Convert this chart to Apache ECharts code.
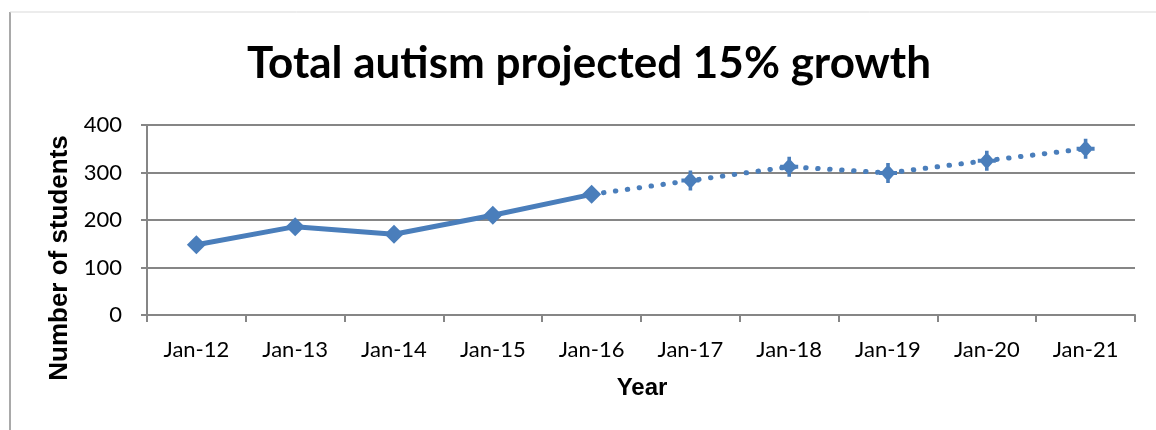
<!DOCTYPE html>
<html>
<head>
<meta charset="utf-8">
<script src="https://cdn.jsdelivr.net/npm/echarts@6/dist/echarts.min.js"></script>
<style>
  html, body { margin: 0; padding: 0; background: #ffffff; }
  #chart { width: 1156px; height: 430px; }
</style>
</head>
<body>
<div id="chart"></div>
<script>
// Year labels along the category axis
const years = ['Jan-12', 'Jan-13', 'Jan-14', 'Jan-15', 'Jan-16', 'Jan-17', 'Jan-18', 'Jan-19', 'Jan-20', 'Jan-21'];
// Recorded student counts, Jan-12 .. Jan-16
const actual = [148, 186, 170, 210, 254];
// Projected student counts, Jan-17 .. Jan-21
const projected = [283, 312, 299, 325, 350];

const blue = '#4a7ebb';
const axisGray = '#868686';

// Solid series: recorded years only
const actualData = years.map((_, i) => (i < actual.length ? actual[i] : null));
// Dotted series: starts at the last recorded point and runs through the projection
const projectedData = years.map((_, i) => {
  if (i === actual.length - 1) return { value: actual[i], symbol: 'none' };
  if (i >= actual.length) return projected[i - actual.length];
  return null;
});

// Diamond with short, thick cross arms poking out of it
const plusDiamond = 'path://M10,1.5 L18.5,10 L10,18.5 L1.5,10 Z M8,0 H12 V20 H8 Z M0,8 H20 V12 H0 Z';

const chart = echarts.init(document.getElementById('chart'), null, { renderer: 'canvas' });
chart.setOption({
  animation: false,
  backgroundColor: '#ffffff',
  grid: { left: 147, right: 21, top: 125, bottom: 115, containLabel: false },
  xAxis: {
    type: 'category',
    data: years,
    boundaryGap: true,
    axisLine: { show: true, lineStyle: { color: axisGray, width: 2 } },
    axisTick: { show: true, length: 7, alignWithLabel: false, lineStyle: { color: axisGray, width: 2 } },
    axisLabel: { color: '#000000', fontFamily: 'Lato', fontSize: 22, margin: 24 },
    splitLine: { show: false }
  },
  yAxis: {
    type: 'value',
    min: 0,
    max: 400,
    interval: 100,
    axisLine: { show: true, lineStyle: { color: axisGray, width: 2 } },
    axisTick: { show: true, length: 6, inside: false, lineStyle: { color: axisGray, width: 2 } },
    axisLabel: { color: '#000000', fontFamily: 'Lato', fontSize: 22, margin: 25 },
    splitLine: { show: true, lineStyle: { color: axisGray, width: 2 } }
  },
  series: [
    {
      name: 'Actual',
      type: 'line',
      data: actualData,
      connectNulls: false,
      symbol: 'diamond',
      symbolSize: 19,
      itemStyle: { color: blue },
      lineStyle: { color: blue, width: 5, cap: 'round', join: 'round' },
      z: 3
    },
    {
      name: 'Projected',
      type: 'line',
      data: projectedData,
      connectNulls: false,
      symbol: plusDiamond,
      symbolSize: [18, 20],
      itemStyle: { color: blue },
      lineStyle: { color: blue, width: 5, type: [0.5, 11.5], cap: 'round' },
      z: 2
    }
  ],
  graphic: [
    // outer frame: left edge and top edge
    { type: 'line', shape: { x1: 10, y1: 12, x2: 10, y2: 430 }, style: { stroke: '#8c8c8c', lineWidth: 1.5 } },
    { type: 'line', shape: { x1: 10, y1: 12, x2: 1156, y2: 12 }, style: { stroke: '#d9d9d9', lineWidth: 1 } },
    {
      type: 'text', x: 589, y: 64,
      style: {
        text: 'Total autism projected 15% growth',
        font: 'bold 44px Lato', fill: '#000000',
        align: 'center', verticalAlign: 'middle'
      }
    },
    {
      type: 'text', x: 60, y: 258, rotation: Math.PI / 2,
      style: {
        text: 'Number of students',
        font: 'bold 26px "Liberation Sans"', fill: '#000000',
        align: 'center', verticalAlign: 'middle'
      }
    },
    {
      type: 'text', x: 642, y: 388,
      style: {
        text: 'Year',
        font: 'bold 24px "Liberation Sans"', fill: '#000000',
        align: 'center', verticalAlign: 'middle'
      }
    }
  ]
});
</script>
</body>
</html>
